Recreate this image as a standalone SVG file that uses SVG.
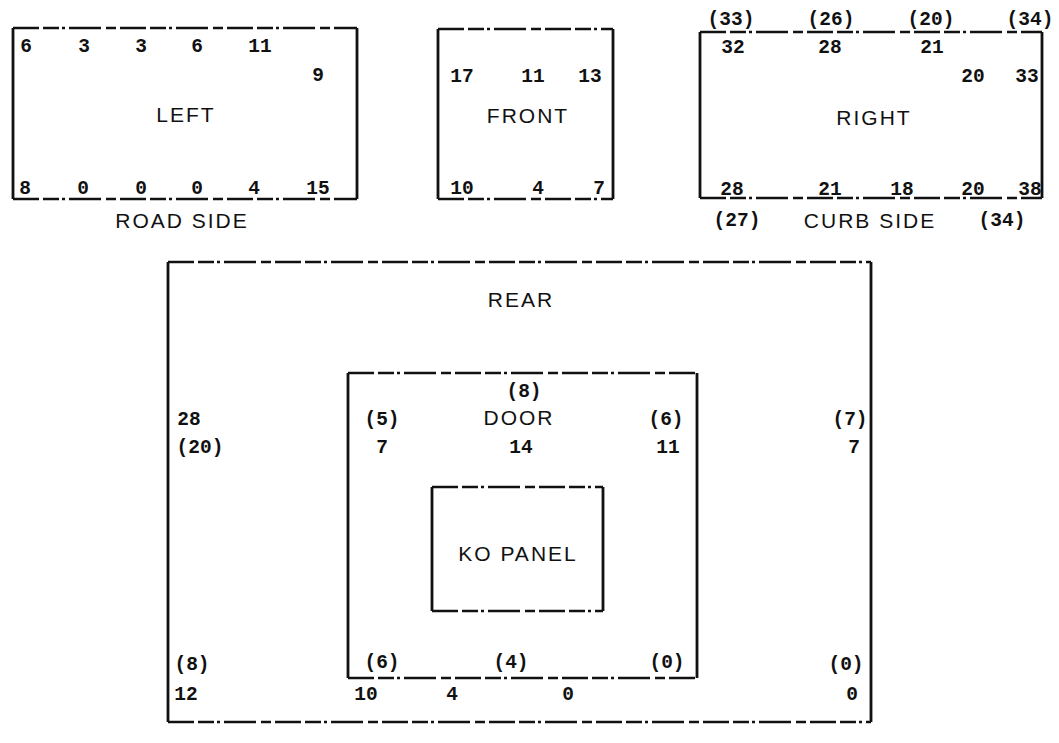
<svg xmlns="http://www.w3.org/2000/svg" width="1059" height="743" viewBox="0 0 1059 743">
<style>
text{font-family:"Liberation Mono","DejaVu Sans Mono",monospace;font-size:19.5px;font-weight:bold;fill:#111;text-anchor:middle}
.lbl{font-family:"Liberation Sans","DejaVu Sans",sans-serif;font-weight:normal;font-size:21px;letter-spacing:2px}
.side{stroke:#111;stroke-width:2.8;fill:none}
.edge{stroke:#111;stroke-width:2.6;fill:none;stroke-dasharray:26 4 16 3 3 4 32 5 10 4}
</style>
<rect width="1059" height="743" fill="#fff"/>
<g id="left">
<path class="side" d="M13,28 V199 M357,28 V199"/>
<path class="edge" d="M13,28 H357 M13,199 H357"/>
<text x="26" y="52">6</text><text x="84" y="52">3</text><text x="141" y="52">3</text><text x="197" y="52">6</text><text x="260" y="52">11</text>
<text x="318" y="81">9</text>
<text class="lbl" x="186" y="122">LEFT</text>
<text x="25" y="194">8</text><text x="83" y="194">0</text><text x="141" y="194">0</text><text x="197" y="194">0</text><text x="254" y="194">4</text><text x="318" y="194">15</text>
<text class="lbl" x="182" y="228">ROAD SIDE</text>
</g>
<g id="front">
<path class="side" d="M438,29 V199 M613,29 V199"/>
<path class="edge" d="M438,29 H613 M438,199 H613"/>
<text x="462" y="82">17</text><text x="533" y="82">11</text><text x="590" y="82">13</text>
<text class="lbl" x="528" y="123">FRONT</text>
<text x="462" y="194">10</text><text x="538" y="194">4</text><text x="599" y="194">7</text>
</g>
<g id="right">
<path class="side" d="M700,32 V198 M1042,32 V198"/>
<path class="edge" d="M700,32 H1042 M700,198 H1042"/>
<text x="731" y="25">(33)</text><text x="831" y="25">(26)</text><text x="931" y="25">(20)</text><text x="1030" y="25">(34)</text>
<text x="733" y="53">32</text><text x="830" y="53">28</text><text x="932" y="53">21</text>
<text x="973" y="82">20</text><text x="1027" y="82">33</text>
<text class="lbl" x="874" y="125">RIGHT</text>
<text x="732" y="195">28</text><text x="830" y="195">21</text><text x="902" y="195">18</text><text x="973" y="195">20</text><text x="1030" y="195">38</text>
<text x="737" y="226">(27)</text><text class="lbl" x="870" y="228">CURB SIDE</text><text x="1002" y="226">(34)</text>
</g>
<g id="rear">
<path class="side" d="M168,262 V722 M871,262 V722"/>
<path class="edge" d="M168,262 H871 M168,722 H871"/>
<text class="lbl" x="521" y="307">REAR</text>
<text x="189" y="425">28</text><text x="200" y="453">(20)</text>
<text x="850" y="425">(7)</text><text x="854" y="453">7</text>
<text x="192" y="670">(8)</text><text x="186" y="700">12</text>
<text x="366" y="700">10</text><text x="452" y="700">4</text><text x="568" y="700">0</text><text x="852" y="700">0</text>
<text x="846" y="670">(0)</text>
</g>
<g id="door">
<path class="side" d="M348,373 V678 M697,373 V678"/>
<path class="edge" d="M348,373 H697 M348,678 H697"/>
<text x="524" y="397">(8)</text>
<text x="382" y="425">(5)</text><text class="lbl" x="519" y="425">DOOR</text><text x="666" y="425">(6)</text>
<text x="382" y="453">7</text><text x="521" y="453">14</text><text x="668" y="453">11</text>
<text x="382" y="668">(6)</text><text x="511" y="668">(4)</text><text x="667" y="668">(0)</text>
</g>
<g id="ko-panel">
<path class="side" d="M432,487 V611 M603,487 V611"/>
<path class="edge" d="M432,487 H603 M432,611 H603"/>
<text class="lbl" x="518" y="561">KO PANEL</text>
</g>
</svg>
